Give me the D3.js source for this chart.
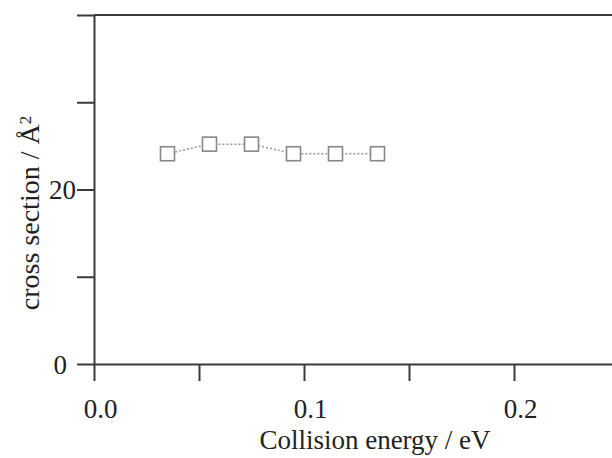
<!DOCTYPE html>
<html>
<head>
<meta charset="utf-8">
<script src="https://cdn.jsdelivr.net/npm/d3@7"></script>
<style>
  html, body { margin: 0; padding: 0; background: #fff; }
  svg { display: block; }
</style>
</head>
<body>
<script>
let width = 612;
let height = 458;

// measured points (collision energy in eV, cross section in Å²)
const energy = [0.035, 0.055, 0.075, 0.095, 0.115, 0.135];
const crossSection = [24.1, 25.2, 25.2, 24.1, 24.1, 24.1];

const xTicks = [0, 0.05, 0.1, 0.15, 0.2, 0.25];
const xLabels = ["0.0", "", "0.1", "", "0.2", ""];
const yTicks = [0, 10, 20, 30, 40];
const yLabels = ["0", "", "20", "", ""];

const data = energy.map((e, i) => ({ e: e, s: crossSection[i] }));

const font = "'Liberation Serif', 'Times New Roman', serif";
const axisColor = "#3a3a3a";

const x = d3.scaleLinear([0, 0.25], [94, 619]);
const y = d3.scaleLinear([0, 40], [364, 15]);

const svg = d3.select("body").append("svg")
    .attr("width", width)
    .attr("height", height)
    .attr("viewBox", [0, 0, width, height]);

svg.append("rect").attr("width", width).attr("height", height).attr("fill", "#fff");

// x axis
svg.append("g")
    .attr("transform", `translate(0,${y(0)})`)
    .call(d3.axisBottom(x).tickValues(xTicks).tickSize(17).tickSizeOuter(0)
        .tickFormat((d, i) => xLabels[i]))
    .call(g => g.select(".domain").attr("stroke", axisColor).attr("stroke-width", 2))
    .call(g => g.selectAll(".tick line").attr("stroke", axisColor).attr("stroke-width", 2))
    .call(g => g.selectAll(".tick text")
        .attr("font-family", font)
        .attr("font-size", 27)
        .attr("fill", "#222")
        .attr("dx", 6)
        .attr("y", 35));

// y axis
svg.append("g")
    .attr("transform", `translate(${x(0)},0)`)
    .call(d3.axisLeft(y).tickValues(yTicks).tickSize(17).tickSizeOuter(0)
        .tickFormat((d, i) => yLabels[i]))
    .call(g => g.select(".domain").attr("stroke", axisColor).attr("stroke-width", 2))
    .call(g => g.selectAll(".tick line").attr("stroke", axisColor).attr("stroke-width", 2))
    .call(g => g.selectAll(".tick text")
        .attr("font-family", font)
        .attr("font-size", 27)
        .attr("fill", "#222")
        .attr("x", d => d === 0 ? -27 : -18)
        .attr("dy", "0.35em"));

// top frame line
svg.append("line")
    .attr("x1", x(0)).attr("x2", width)
    .attr("y1", y(40)).attr("y2", y(40))
    .attr("stroke", axisColor).attr("stroke-width", 2);

// dotted connecting line
svg.append("path")
    .datum(data)
    .attr("fill", "none")
    .attr("stroke", "#999")
    .attr("stroke-width", 1.5)
    .attr("stroke-dasharray", "2,2")
    .attr("d", d3.line().x(d => x(d.e)).y(d => y(d.s)));

// square markers
const size = 14;
svg.append("g")
    .selectAll("rect")
    .data(data)
    .join("rect")
    .attr("x", d => x(d.e) - size / 2)
    .attr("y", d => y(d.s) - size / 2)
    .attr("width", size)
    .attr("height", size)
    .attr("fill", "#fff")
    .attr("stroke", "#888")
    .attr("stroke-width", 1.6);

// axis titles
svg.append("text")
    .attr("x", 375)
    .attr("y", 449)
    .attr("text-anchor", "middle")
    .attr("font-family", font)
    .attr("font-size", 27)
    .attr("fill", "#222")
    .text("Collision energy / eV");

svg.append("text")
    .attr("transform", "translate(39,213) rotate(-90)")
    .attr("text-anchor", "middle")
    .attr("font-family", font)
    .attr("font-size", 28)
    .attr("fill", "#222")
    .call(t => t.append("tspan").text("cross section / Å"))
    .call(t => t.append("tspan").attr("dy", "-0.45em").attr("font-size", 17).text("2"));
</script>
</body>
</html>
